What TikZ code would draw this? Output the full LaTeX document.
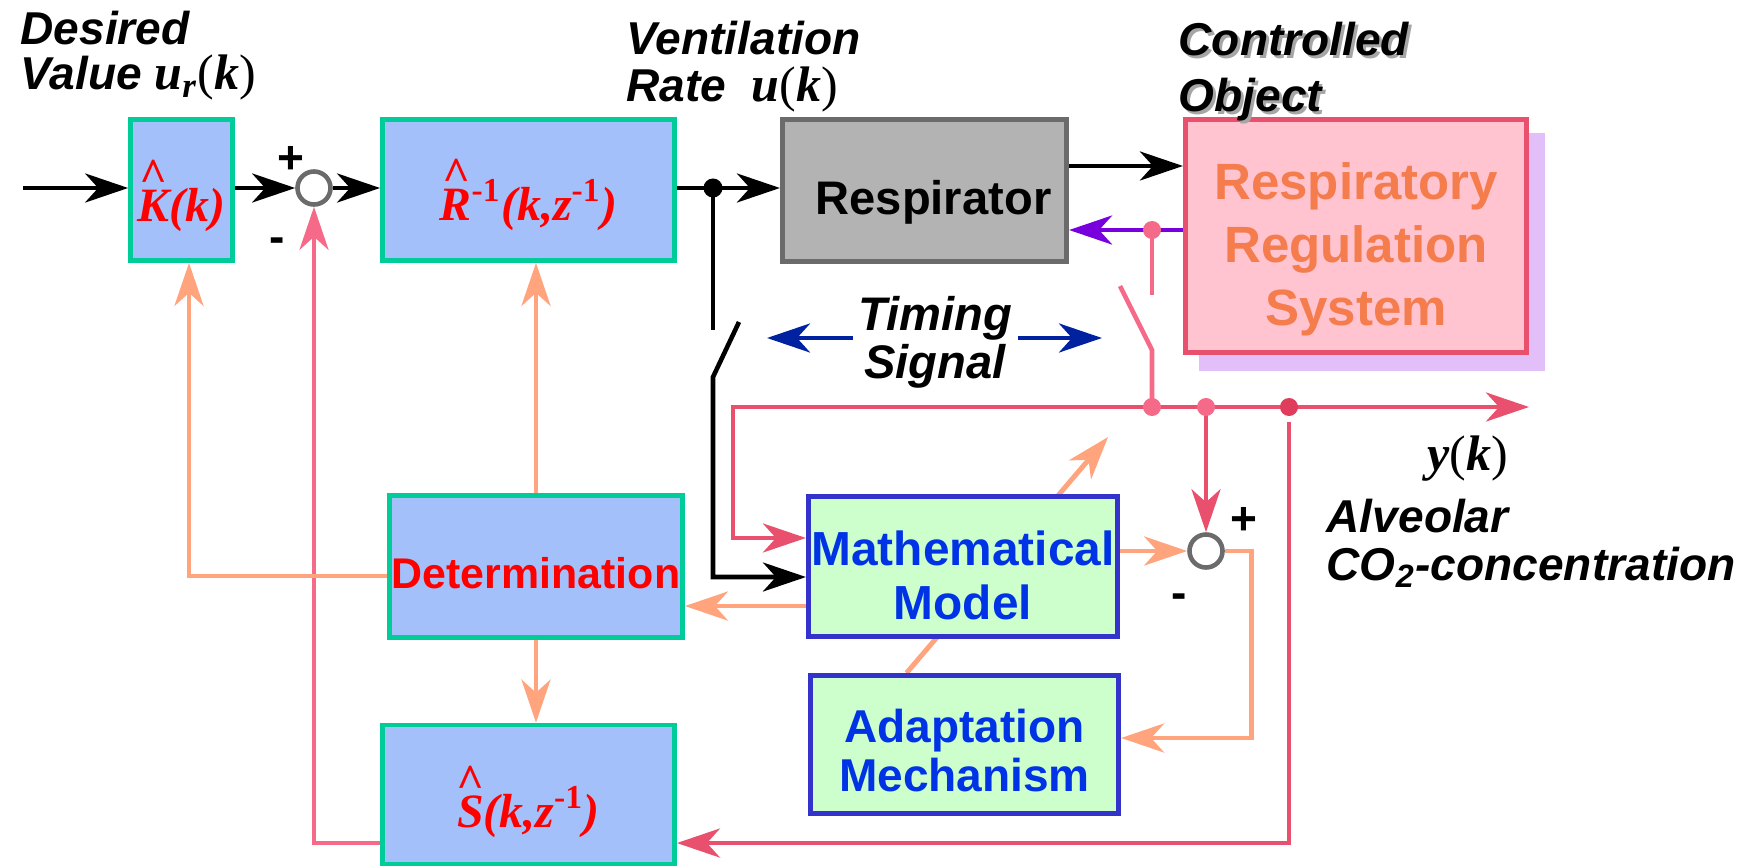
\documentclass[tikz,border=0pt]{standalone}
\usepackage{fontspec}
\setmainfont{Liberation Serif}
\setsansfont{Liberation Sans}
\newfontfamily\tms{Liberation Serif}
\usepackage{xcolor}
\usetikzlibrary{arrows.meta,calc,backgrounds}

\definecolor{boxteal}{HTML}{00CC99}
\definecolor{boxblue}{HTML}{A3C0FA}
\definecolor{modelblue}{HTML}{3333CC}
\definecolor{modelgreen}{HTML}{CCFFCC}
\definecolor{modeltext}{HTML}{0033E6}
\definecolor{respgray}{HTML}{B3B3B3}
\definecolor{respedge}{HTML}{6B6B6B}
\definecolor{objpink}{HTML}{FFC4D0}
\definecolor{objedge}{HTML}{E8506E}
\definecolor{objshadow}{HTML}{E2BFF8}
\definecolor{objtext}{HTML}{F57C4C}
\definecolor{fbpink}{HTML}{E8506E}
\definecolor{fblight}{HTML}{F56A88}
\definecolor{fbdark}{HTML}{E03C5C}
\definecolor{adjorange}{HTML}{FFA47C}
\definecolor{timeblue}{HTML}{0022A0}
\definecolor{airviolet}{HTML}{7700DD}
\definecolor{sumgray}{HTML}{6B6B6B}

\newcommand{\tagfont}[1]{\sffamily\bfseries\itshape\fontsize{13.1}{#1}\selectfont}
\newcommand{\estfont}{\tms\bfseries\itshape\fontsize{13.6}{16}\selectfont}
\newcommand{\sigfont}{\tms\bfseries\itshape\fontsize{14.2}{16}\selectfont}
\newcommand{\caret}[1]{\ooalign{#1\cr\hidewidth\raisebox{0.62em}{\textasciicircum}\hidewidth\cr}}
\newcommand{\sigof}[2]{#1{\upshape\mdseries(}#2{\upshape\mdseries)}}

\begin{document}
\begin{tikzpicture}[
  x=0.01cm, y=-0.01cm,
  >={Stealth[length=4.3mm,width=2.9mm,inset=1.3mm]},
  estblock/.style={draw=boxteal,fill=boxblue,line width=1.3pt,inner sep=0pt,
    text=red,font=\estfont,text height=0.63cm,text depth=0pt},
  modelblock/.style={draw=modelblue,fill=modelgreen,line width=1.4pt,inner sep=0pt,
    text=modeltext,align=center,text depth=0pt},
  sumnode/.style={circle,draw=sumgray,line width=1.3pt,fill=white,
    minimum size=0.33cm,inner sep=0pt},
  signal/.style={black,line width=1.3pt},
  feed/.style={fbpink,line width=1.3pt},
  feedthin/.style={fblight,line width=1.3pt},
  adj/.style={adjorange,line width=1.4pt},
  air/.style={airviolet,line width=1.3pt},
  tim/.style={timeblue,line width=1.3pt},
  jdot/.style={circle,fill=black,inner sep=0pt,minimum size=0.19cm},
  fbdot/.style={circle,fill=fblight,inner sep=0pt,minimum size=0.18cm},
  tag/.style={inner sep=0pt,font={\tagfont{13.4}}},
  sign/.style={inner sep=0pt,font=\sffamily\bfseries\fontsize{13.1}{15}\selectfont},
  sig/.style={inner sep=0pt,font=\sigfont}
]
\path[use as bounding box] (0,0) rectangle (1761,867);

% blocks of the upper loop
\node[estblock,minimum width=1.02cm,minimum height=1.41cm] (K) at (181.5,190)
  {\caret{K}(k)};
\node[sumnode] (sum1) at (314,188) {};
\node[estblock,minimum width=2.92cm,minimum height=1.41cm,text height=0.6cm] (R) at (528.5,190)
  {\caret{R}\textsuperscript{\upshape-1}(k,z\textsuperscript{\upshape-1})};
\node[draw=respedge,fill=respgray,line width=1.4pt,inner sep=0pt,
  minimum width=2.84cm,minimum height=1.42cm,text height=0.47cm,text depth=0pt,
  font=\sffamily\bfseries\fontsize{13.4}{16}\selectfont] (Resp) at (924.5,190.5)
  {\hspace{0.18cm}Respirator};
\node[draw=objedge,fill=objpink,line width=1.4pt,inner sep=0pt,
  minimum width=3.41cm,minimum height=2.33cm,align=center,text=objtext,
  text height=1.78cm,text depth=0pt,
  font=\sffamily\bfseries\fontsize{14.5}{17.9}\selectfont] (Ctrl) at (1356,236)
  {Respiratory\\Regulation\\System};

% blocks of the lower part
\node[estblock,minimum width=2.93cm,minimum height=1.42cm,text height=0.43cm,
  font=\sffamily\bfseries\fontsize{12.2}{14}\selectfont] (Det) at (536,566.5)
  {Determination};
\node[estblock,minimum width=2.92cm,minimum height=1.39cm,text height=0.65cm] (S) at (528.5,794.5)
  {\caret{S}(k,z\textsuperscript{\upshape-1})};
\node[modelblock,minimum width=3.09cm,minimum height=1.40cm,text height=1.05cm,
  font=\sffamily\bfseries\fontsize{13.6}{15.1}\selectfont] (Math) at (963,566.5)
  {Mathematical\\Model};
\node[modelblock,minimum width=3.08cm,minimum height=1.38cm,text height=0.93cm,
  font=\sffamily\bfseries\fontsize{13.1}{13.9}\selectfont] (Adapt) at (964.5,744.5)
  {Adaptation\\Mechanism};
\node[sumnode] (sum2) at (1206,551) {};

\coordinate (uin) at (23,188);
\coordinate (uk) at (713,188);
\coordinate (swLa) at (713,330);
\coordinate (swLb) at (739,322);
\coordinate (swLc) at (713,377);
\coordinate (fb) at (1152,230);
\coordinate (swRa) at (1152,295);
\coordinate (swRb) at (1120,286);
\coordinate (swRc) at (1152,350);
\coordinate (y1) at (1152,407);
\coordinate (y2) at (1206,407);
\coordinate (y3) at (1289,407);
\coordinate (yl) at (733,407);
\coordinate (yout) at (1529,407);
\coordinate (tune) at (1108,437);
\coordinate (tl) at (767,338);
\coordinate (tr) at (1102,338);
\coordinate (mi) at ([yshift=2.85mm]Math.west);
\coordinate (mb) at ([yshift=-1.05mm]Math.west);
\coordinate (pr) at ([yshift=-3.95mm]Resp.east);
\coordinate (si) at ([yshift=-4.85mm]S.east);

\begin{scope}[on background layer]
  \fill[objshadow] ($(Ctrl.north west)+(16,16)$) rectangle ($(Ctrl.south east)+(16,16)$);
  \draw[adj,->] ($(Adapt.north)+(-58,0)$) -- (tune);
\end{scope}

% control signal path
\draw[signal,->] (uin) -- (K.west |- uin);
\draw[signal,->] (K.east |- uin) -- (sum1.west);
\draw[signal,->] (sum1.east) -- (R.west |- uin);
\draw[signal,->] (R.east |- uk) -- (Resp.west |- uk);
\draw[signal] (uk) -- (swLa);
\draw[signal,->] (swLb) -- (swLc) |- (mb);
\node[jdot] at (uk) {};
\draw[signal,->] ([yshift=2.45mm]Resp.east) coordinate (rq) -- (rq -| Ctrl.west);
\draw[air,->] (pr -| Ctrl.west) -- (pr);

% measured output and feedback
\draw[feedthin] (fb) -- (swRa);
\draw[feedthin] (swRb) -- (swRc) -- (y1);
\draw[feed,->] (y1) -- (yout);
\draw[feed,->] (y1) -- (yl) |- (mi);
\draw[feed,->] (y2) -- (sum2.north);
\draw[feed,->] ([yshift=-1.5mm]y3) |- (si);
\draw[feedthin,->] (si -| S.west) -| (sum1.south);
\node[fbdot] at (fb) {};
\node[fbdot] at (y1) {};
\node[fbdot] at (y2) {};
\node[fbdot,fill=fbdark] at (y3) {};

% parameter adjustment
\draw[adj,->] (Det.north) -- (Det.north |- R.south);
\draw[adj,->] (Det.south) -- (Det.south |- S.north);
\draw[adj,->] ([yshift=-0.95mm]Det.west) -| ([xshift=0.75mm]K.south);
\draw[adj,->] ([yshift=-3.95mm]Math.west) -- ([yshift=-3.95mm]Det.east);
\draw[adj,->] (Math.east |- sum2.west) -- (sum2.west);
\draw[adj,->] (sum2.east) -- ++(27,0) |- ([yshift=0.65mm]Adapt.east);

% labels (base = last line)
\node[tag,anchor=base west,align=left,font={\tagfont{12.8}}] (desired) at (20,90)
  {Desired\\Value {\sigfont\sigof{u\textsubscript{r}}{k}}};
\node[tag,anchor=base west,align=left] (vent) at (626,102)
  {Ventilation\\Rate\hspace{0.55em}{\sigfont\sigof{u}{k}}};
\node[tag,anchor=base west,align=left,font={\tagfont{16.2}},text=black!35] at (1181,115)
  {Controlled\\Object};
\node[tag,anchor=base west,align=left,font={\tagfont{16.2}}] (object) at (1178,112)
  {Controlled\\Object};
\node[tag,align=center,inner xsep=0.05cm,font={\sffamily\bfseries\itshape\fontsize{13.4}{13.7}\selectfont}]
  (timing) at (935,342) {Timing\\Signal};
\draw[tim,->] (timing.west |- tl) -- (tl);
\draw[tim,->] (timing.east |- tr) -- (tr);
\node[sig,anchor=base west] (ylabel) at (1427,470) {\sigof{y}{k}};
\node[tag,anchor=base west,align=left] (co2) at (1326,580)
  {Alveolar\\CO\textsubscript{2}-concentration};

\node[sign,anchor=base] at (291,173) {+};
\node[sign,anchor=base] at (277,252) {-};
\node[sign,anchor=base] at (1244,534) {+};
\node[sign,anchor=base] at (1179,608) {-};
\end{tikzpicture}
\end{document}
